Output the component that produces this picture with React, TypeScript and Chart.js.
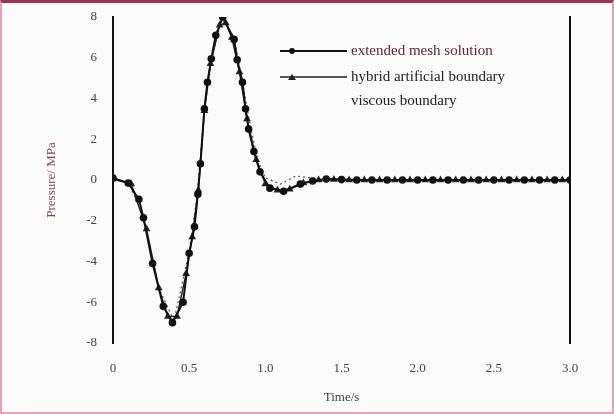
import React, { useEffect, useRef } from "react";
import { Chart, registerables } from "chart.js";

Chart.register(...registerables);

// ---- data ----
const seriesLabels = ["extended mesh solution", "hybrid artificial boundary", "viscous boundary"];

const tExtended = [0, 0.1, 0.17, 0.2, 0.26, 0.33, 0.39, 0.46, 0.5, 0.535, 0.557, 0.574, 0.6, 0.62, 0.645, 0.675, 0.72, 0.795, 0.815, 0.85, 0.87, 0.89, 0.925, 0.965, 1.03, 1.12, 1.23, 1.31, 1.4, 1.5, 1.6, 1.7, 1.8, 1.9, 2.0, 2.1, 2.2, 2.3, 2.4, 2.5, 2.6, 2.7, 2.8, 2.9, 3.0];
const pExtended = [0.1, -0.15, -0.95, -1.85, -4.1, -6.2, -7.0, -6.0, -3.6, -2.3, -0.7, 0.8, 3.5, 4.8, 5.95, 7.1, 8.0, 6.9, 5.9, 4.8, 3.5, 2.5, 1.4, 0.4, -0.4, -0.55, -0.2, -0.05, 0.05, 0.02, 0, 0, 0, 0, 0, 0, 0, 0, 0, 0, 0, 0, 0, 0, 0];

const tHybrid = [0, 0.12, 0.22, 0.3, 0.36, 0.42, 0.48, 0.52, 0.56, 0.6, 0.64, 0.7, 0.74, 0.78, 0.83, 0.88, 0.94, 1.0, 1.08, 1.16, 1.25, 1.35, 1.45, 1.55, 1.65, 1.75, 1.85, 1.95, 2.05, 2.15, 2.25, 2.35, 2.45, 2.55, 2.65, 2.75, 2.85, 2.95];
const pHybrid = [0.05, -0.2, -2.4, -5.3, -6.7, -6.7, -4.6, -2.8, -0.5, 3.4, 5.7, 7.6, 7.7, 7.0, 5.3, 3.0, 1.0, -0.2, -0.5, -0.45, -0.15, 0.0, 0.02, 0, 0, 0, 0, 0, 0, 0, 0, 0, 0, 0, 0, 0, 0, 0];

const tViscous = [0, 0.1, 0.2, 0.3, 0.4, 0.5, 0.55, 0.6, 0.65, 0.7, 0.72, 0.75, 0.8, 0.85, 0.9, 0.95, 1.0, 1.1, 1.2, 1.3, 1.4, 1.6, 2.0, 2.5, 3.0];
const pViscous = [0, -0.1, -1.8, -5.3, -6.9, -3.5, -0.9, 3.4, 6.0, 7.6, 7.9, 7.5, 6.8, 4.8, 2.7, 1.0, 0.1, -0.2, 0.2, 0.1, 0.05, 0, 0, 0, 0];

const xTicks = [0, 0.5, 1.0, 1.5, 2.0, 2.5, 3.0];
const xTickLabels = ["0", "0.5", "1.0", "1.5", "2.0", "2.5", "3.0"];
const yTicks = [8, 6, 4, 2, 0, -2, -4, -6, -8];
const xTitle = "Time/s";
const yTitle = "Pressure/ MPa";

const toPoints = (t: number[], v: number[]) => t.map((x, i) => ({ x, y: v[i] }));

const FONT = "'Liberation Serif', 'DejaVu Serif', serif";

const legendPlugin = {
  id: "customLegend",
  afterDraw(chart: any) {
    const { ctx, chartArea } = chart;
    const x0 = chartArea.left + 167;
    const x1 = x0 + 67;
    const rows = [48, 74, 98];
    ctx.save();
    chart.data.datasets.forEach((ds: any, i: number) => {
      const y = rows[i];
      ctx.strokeStyle = ds.borderColor;
      ctx.lineWidth = ds.borderWidth;
      ctx.setLineDash(ds.borderDash || []);
      if (i < 2) {
        ctx.beginPath();
        ctx.moveTo(x0, y);
        ctx.lineTo(x1, y);
        ctx.stroke();
        ctx.setLineDash([]);
        ctx.fillStyle = ds.pointBackgroundColor;
        ctx.beginPath();
        if (ds.pointStyle === "triangle") {
          ctx.moveTo(x0 + 12, y - 3);
          ctx.lineTo(x0 + 8, y + 3);
          ctx.lineTo(x0 + 16, y + 3);
          ctx.closePath();
        } else {
          ctx.arc(x0 + 12, y, 3, 0, Math.PI * 2);
        }
        ctx.fill();
      }
      ctx.setLineDash([]);
      ctx.fillStyle = i === 0 ? "#5a2a30" : "#222";
      ctx.font = `15px ${FONT}`;
      ctx.textBaseline = "middle";
      ctx.textAlign = "left";
      ctx.fillText(ds.label, x1 + 4, y);
    });
    ctx.restore();
  },
};

export default function App() {
  const ref = useRef<HTMLCanvasElement | null>(null);
  useEffect(() => {
    if (!ref.current) return;
    const chart = new Chart(ref.current, {
      type: "line",
      data: {
        datasets: [
          {
            label: seriesLabels[0],
            data: toPoints(tExtended, pExtended),
            borderColor: "#111",
            borderWidth: 2,
            pointStyle: "circle",
            pointRadius: 2.8,
            pointBackgroundColor: "#111",
            pointBorderColor: "#111",
            tension: 0,
          },
          {
            label: seriesLabels[1],
            data: toPoints(tHybrid, pHybrid),
            borderColor: "#222",
            borderWidth: 1.5,
            pointStyle: "triangle",
            pointRadius: 3,
            pointBackgroundColor: "#222",
            pointBorderColor: "#222",
            tension: 0,
          },
          {
            label: seriesLabels[2],
            data: toPoints(tViscous, pViscous),
            borderColor: "#555",
            borderWidth: 1.2,
            borderDash: [2, 3],
            pointRadius: 0,
            tension: 0,
          },
        ],
      },
      options: {
        animation: false,
        responsive: false,
        maintainAspectRatio: false,
        layout: { padding: { left: 0, right: 0, top: 14, bottom: 0 } },
        plugins: { legend: { display: false }, tooltip: { enabled: false } },
        scales: {
          x: {
            type: "linear",
            min: 0,
            max: 3,
            afterBuildTicks: (s: any) => { s.ticks = xTicks.map((v) => ({ value: v })); },
            ticks: {
              callback: (v: any) => xTickLabels[xTicks.indexOf(Number(v))] ?? "",
              font: { family: FONT, size: 13 },
              color: "#444",
              padding: 18,
              maxRotation: 0,
            },
            grid: { display: false, drawTicks: false, tickLength: 0 },
            border: { display: false },
            title: { display: true, text: xTitle, font: { family: FONT, size: 13 }, color: "#444", padding: { top: 0, bottom: 7 } },
            afterFit: (s: any) => { s.height = 69; s.paddingLeft = 0; s.paddingRight = 0; },
          },
          y: {
            position: "left",
            min: -8,
            max: 8,
            afterBuildTicks: (s: any) => { s.ticks = yTicks.map((v) => ({ value: v })); },
            ticks: { font: { family: FONT, size: 13 }, color: "#444", padding: 16 },
            grid: { display: false, drawTicks: false, tickLength: 0 },
            border: { display: true, color: "#111", width: 2 },
            title: { display: true, text: yTitle, font: { family: FONT, size: 13 }, color: "#7a4a55", padding: { top: 42, bottom: 0 } },
            afterFit: (s: any) => { s.width = 111; s.paddingTop = 0; s.paddingBottom = 0; },
          },
          y2: {
            position: "right",
            min: -8,
            max: 8,
            ticks: { display: false },
            grid: { display: false, drawTicks: false },
            border: { display: true, color: "#111", width: 2 },
            afterFit: (s: any) => { s.width = 42; s.paddingTop = 0; s.paddingBottom = 0; },
          },
        },
      },
      plugins: [legendPlugin],
    } as any);
    return () => chart.destroy();
  }, []);

  return (
    <div
      style={{
        position: "fixed",
        left: 0,
        top: 0,
        width: 614,
        height: 414,
        background: "#fbfbfb",
        boxSizing: "border-box",
        border: "2px solid #e7a3b6",
        borderTop: "3px solid #a0344e",
      }}
    >
      <canvas ref={ref} width={610} height={409} style={{ display: "block" }} />
    </div>
  );
}
